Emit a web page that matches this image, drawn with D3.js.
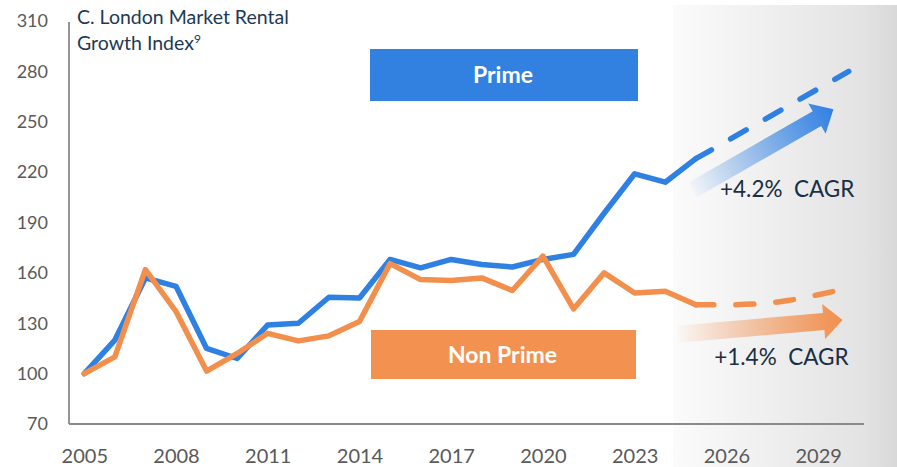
<!DOCTYPE html>
<html>
<head>
<meta charset="utf-8">
<script src="https://cdn.jsdelivr.net/npm/d3@7"></script>
<style>
  body { margin: 0; background: #fff; }
  svg { display: block; font-family: Lato, "Open Sans", sans-serif; }
</style>
</head>
<body>
<div id="chart"></div>
<script>
// index values, C. London rents (2005 = 100)
let years = d3.range(2005, 2026);
let prime = [100, 120, 157, 152, 115, 109, 129, 130, 145.5, 145, 168, 163, 168, 165, 163.5, 168, 171, 195.5, 219, 214, 228];
let nonPrime = [100, 110, 162, 137, 101.5, 112, 124, 119.5, 122.5, 131, 165.5, 156, 155.5, 157, 149.5, 170, 138.5, 160, 148, 149, 141];

// forecast part (dashed)
let primeProjYears = [2025, 2030];
let primeProj = [228, 280];
let nonPrimeProjYears = [2025, 2026, 2027, 2028, 2029, 2030];
let nonPrimeProj = [141, 141, 141.5, 143.5, 147, 151];

let yTicks = [70, 100, 130, 160, 190, 220, 250, 280, 310];
let xTicks = [2005, 2008, 2011, 2014, 2017, 2020, 2023, 2026, 2029];

// CAGR arrows, in data units [year, index]
let cagrArrows = [
  { from: [2024.9, 209.5], to: [2029.5, 257.5], color: "#2f80e3", label: "+4.2%  CAGR", labelAt: [2025.79, 205.2] },
  { from: [2024.4, 123.5], to: [2029.8, 132], color: "#f28f4d", label: "+1.4%  CAGR", labelAt: [2025.6, 105.1] }
];

let W = 897, H = 467;
let mLeft = 69, mRight = 864, mTop = 21, mBottom = 424;

let svg = d3.select("#chart").append("svg")
    .attr("width", W)
    .attr("height", H);

let defs = svg.append("defs");

// shaded forecast panel
let panelGrad = defs.append("linearGradient").attr("id", "panel");
panelGrad.append("stop").attr("offset", "0%").attr("stop-color", "#fbfbfb");
panelGrad.append("stop").attr("offset", "85%").attr("stop-color", "#e3e3e3");
panelGrad.append("stop").attr("offset", "100%").attr("stop-color", "#d8d8d8");

// one band per year 2005..2030, points at the band centres
let step = (mRight - mLeft) / 26;
let x = d3.scaleLinear()
    .domain([2005, 2030])
    .range([mLeft + step / 2, mLeft + step / 2 + 25 * step]);
let y = d3.scaleLinear()
    .domain([70, 310])
    .range([mBottom, mTop]);

svg.append("rect")
    .attr("x", 673).attr("y", 5)
    .attr("width", W - 673).attr("height", H - 5)
    .attr("fill", "url(#panel)");

// axes
let yAxis = svg.append("g")
    .attr("transform", `translate(${mLeft},0)`)
    .call(d3.axisLeft(y).tickValues(yTicks).tickSize(0).tickPadding(21));
yAxis.select(".domain").remove();
yAxis.selectAll("text")
    .attr("fill", "#595959")
    .style("font-size", "18px")
    .style("font-family", "Lato, sans-serif");

let xAxis = svg.append("g")
    .attr("transform", `translate(0,${mBottom})`)
    .call(d3.axisBottom(x).tickValues(xTicks).tickFormat(d3.format("d")).tickSize(0).tickPadding(25));
xAxis.select(".domain").remove();
xAxis.selectAll("text")
    .attr("fill", "#595959")
    .style("font-size", "20px")
    .style("font-family", "Lato, sans-serif");

svg.append("line")
    .attr("x1", mLeft).attr("x2", mLeft)
    .attr("y1", mTop + 1).attr("y2", mBottom)
    .attr("stroke", "#8a8a8a").attr("stroke-width", 1.8);
svg.append("line")
    .attr("x1", mLeft).attr("x2", mRight)
    .attr("y1", mBottom).attr("y2", mBottom)
    .attr("stroke", "#8a8a8a").attr("stroke-width", 1.8);

// title
let title = svg.append("text")
    .attr("x", 77).attr("y", 24)
    .attr("fill", "#1d3a55")
    .style("font-size", "19.5px");
title.append("tspan").text("C. London Market Rental");
title.append("tspan").attr("x", 77).attr("dy", 26).text("Growth Index");
title.append("tspan").attr("dy", -7).style("font-size", "12px").text("9");

// legend boxes
let legend = [
  { name: "Prime", color: "#3281e0", x: 370, y: 49, w: 268, h: 52 },
  { name: "Non Prime", color: "#f39150", x: 371, y: 330, w: 265, h: 49 }
];
let lg = svg.selectAll(".legend").data(legend).join("g").attr("class", "legend");
lg.append("rect")
    .attr("x", d => d.x).attr("y", d => d.y)
    .attr("width", d => d.w).attr("height", d => d.h)
    .attr("fill", d => d.color);
lg.append("text")
    .attr("x", d => d.x + d.w / 2 - 1)
    .attr("y", d => d.y + d.h / 2)
    .attr("dy", "0.36em")
    .attr("text-anchor", "middle")
    .attr("fill", "#fff")
    .style("font-size", "23px")
    .style("font-weight", "bold")
    .text(d => d.name);

// arrows with fading gradient
cagrArrows.forEach((a, i) => {
  let x1 = x(a.from[0]), y1 = y(a.from[1]);
  let x2 = x(a.to[0]), y2 = y(a.to[1]);
  let len = Math.hypot(x2 - x1, y2 - y1);
  let ang = Math.atan2(y2 - y1, x2 - x1) * 180 / Math.PI;
  let shaft = 17, head = 35, headLen = 19;

  let g = defs.append("linearGradient").attr("id", "arrow" + i);
  g.append("stop").attr("offset", "0%").attr("stop-color", a.color).attr("stop-opacity", 0.03);
  g.append("stop").attr("offset", "100%").attr("stop-color", a.color).attr("stop-opacity", 1);

  let pts = [
    [0, -shaft / 2], [len - headLen, -shaft / 2], [len - headLen, -head / 2],
    [len, 0],
    [len - headLen, head / 2], [len - headLen, shaft / 2], [0, shaft / 2]
  ];
  svg.append("path")
      .attr("transform", `translate(${x1},${y1}) rotate(${ang})`)
      .attr("d", d3.line()(pts) + "Z")
      .attr("fill", `url(#arrow${i})`);

  svg.append("text")
      .attr("x", x(a.labelAt[0]))
      .attr("y", y(a.labelAt[1]))
      .attr("fill", "#1a2e44")
      .style("font-size", "22.5px")
      .style("white-space", "pre")
      .attr("xml:space", "preserve")
      .text(a.label);
});

// lines
let line = d3.line()
    .x(d => x(d[0]))
    .y(d => y(d[1]));

function drawSeries(xs, vals, color, dashed, curve) {
  svg.append("path")
      .datum(d3.zip(xs, vals))
      .attr("fill", "none")
      .attr("stroke", color)
      .attr("stroke-width", 5.5)
      .attr("stroke-linejoin", "round")
      .attr("stroke-linecap", "round")
      .attr("stroke-dasharray", dashed ? "18,22" : null)
      .attr("d", line.curve(curve || d3.curveLinear));
}

drawSeries(nonPrimeProjYears, nonPrimeProj, "#f28f4d", true, d3.curveMonotoneX);
drawSeries(primeProjYears, primeProj, "#2f80e3", true);
drawSeries(years, prime, "#2f80e3", false);
drawSeries(years, nonPrime, "#f28f4d", false);
</script>
</body>
</html>
